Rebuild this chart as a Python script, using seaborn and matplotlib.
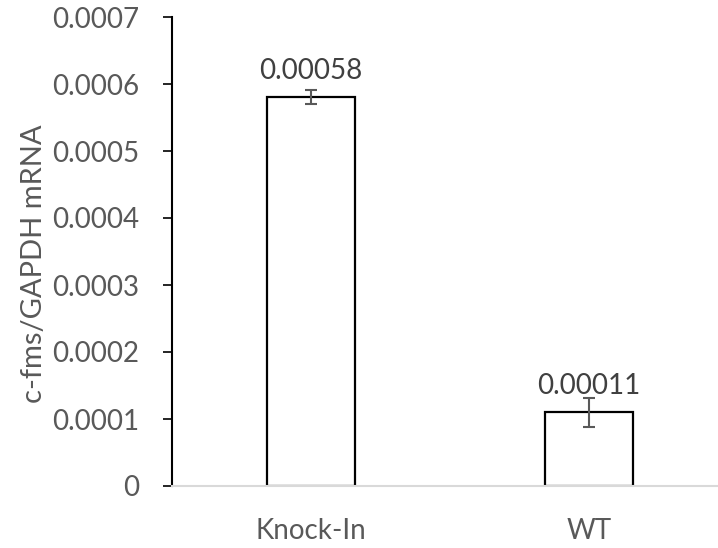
import matplotlib
matplotlib.use("Agg")
import matplotlib.pyplot as plt
import seaborn as sns
import pandas as pd

categories = ["Knock-In", "WT"]
values = [0.00058, 0.00011]
errors = [0.0000105, 0.0000215]
value_labels = ["0.00058", "0.00011"]
y_ticks = [0, 0.0001, 0.0002, 0.0003, 0.0004, 0.0005, 0.0006, 0.0007]
y_tick_labels = ["0", "0.0001", "0.0002", "0.0003", "0.0004", "0.0005", "0.0006", "0.0007"]
y_label = "c-fms/GAPDH mRNA"

sns.set_theme(style="white")
plt.rcParams["font.family"] = ["Lato", "DejaVu Sans"]

W, H = 718, 548
fig = plt.figure(figsize=(W / 100, H / 100), dpi=100)
left, right, top, bottom = 172, 728, 17, 486
ax = fig.add_axes([left / W, 1 - bottom / H, (right - left) / W, (bottom - top) / H])

df = pd.DataFrame({"cat": categories, "val": values})
sns.barplot(data=df, x="cat", y="val", ax=ax, color="white", edgecolor="black",
            linewidth=1.6, width=0.313, errorbar=None)

xs = [p.get_x() + p.get_width() / 2 for p in ax.patches]
ax.errorbar(xs, values, yerr=errors, fmt="none", ecolor="#595959",
            elinewidth=1.5, capsize=4.3, capthick=1.5, zorder=5)

for x, v, lab in zip(xs, values, value_labels):
    ax.annotate(lab, (x, v), xytext=(0, 13.5), textcoords="offset points",
                ha="center", va="baseline", fontsize=20, color="#404040")

ax.set_xlim(-0.5, 1.5)
ax.set_ylim(0, 0.0007)
ax.set_yticks(y_ticks)
ax.set_yticklabels(y_tick_labels)
ax.set_xlabel("")
ax.set_ylabel(y_label, fontsize=21, color="#595959", va="center")
ax.yaxis.set_label_coords(-0.248, 0.475)

for s in ["top", "right"]:
    ax.spines[s].set_visible(False)
ax.spines["left"].set_color("black")
ax.spines["left"].set_linewidth(1.5)
ax.spines["bottom"].set_color("#d9d9d9")
ax.spines["bottom"].set_linewidth(1.5)

ax.tick_params(axis="y", which="major", left=True, length=6.5, width=1.2,
               color="black", direction="out", pad=17, labelsize=20, labelcolor="#595959")
ax.tick_params(axis="x", bottom=False, pad=17, labelsize=20, labelcolor="#595959")

fig.savefig("out.png", dpi=100)
